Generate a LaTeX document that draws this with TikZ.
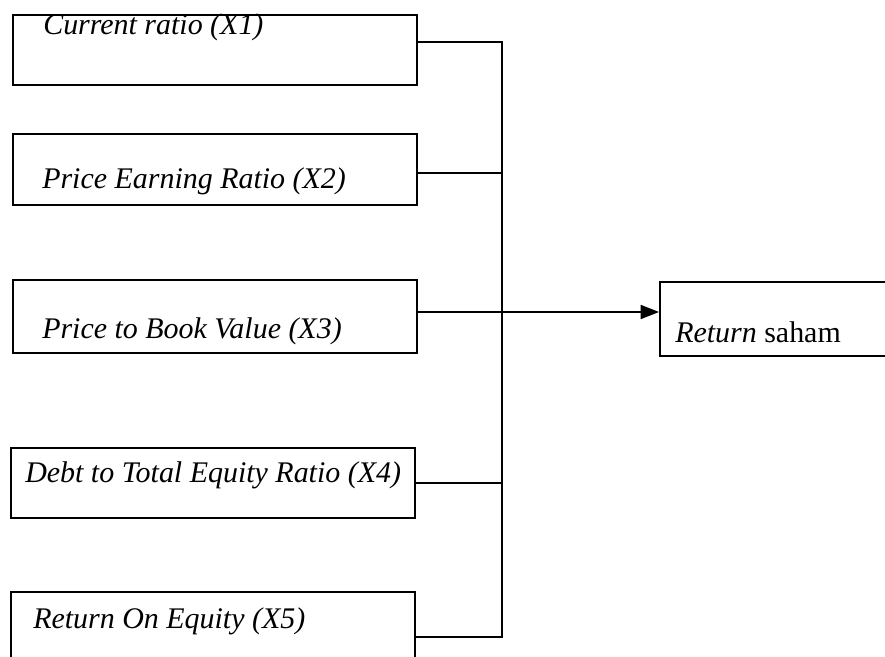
\documentclass[tikz,border=0pt]{standalone}
\usepackage{fontspec}
\setmainfont{Liberation Serif}
\usetikzlibrary{arrows.meta}

\tikzset{
    varbox/.style={draw, line width=1.2pt, minimum width=10.1cm, inner sep=0pt, anchor=north west},
    vartext/.style={anchor=base west, inner sep=0pt, font=\fontsize{21.3}{25}\selectfont\itshape},
    link/.style={line width=1pt},
}

\begin{document}
\begin{tikzpicture}[x=0.025cm, y=-0.025cm]
    \useasboundingbox (0,0) rectangle (885,656);
    \clip (0,0) rectangle (885,656);

    % independent variables
    \node[varbox, minimum height=1.75cm] at (12, 14) (x1) {};
    \node[varbox, minimum height=1.775cm] at (12, 133) (x2) {};
    \node[varbox, minimum height=1.825cm] at (12, 279) (x3) {};
    \node[varbox, minimum height=1.75cm] at (10, 447) (x4) {};
    \node[varbox, minimum height=2cm] at (10, 591) (x5) {};

    % dependent variable
    \node[varbox, minimum width=6cm, minimum height=1.85cm] at (659, 281) (ret) {};

    % labels
    \node[vartext] at (43, 35) (x1text) {Current ratio (X1)};
    \node[vartext] at (42, 188) (x2text) {Price Earning Ratio (X2)};
    \node[vartext] at (42, 338) (x3text) {Price to Book Value (X3)};
    \node[vartext] at (25, 482) (x4text) {Debt to Total Equity Ratio (X4)};
    \node[vartext] at (33, 628) (x5text) {Return On Equity (X5)};
    \node[vartext] at (675, 342) (rettext) {Return \upshape saham};

    % bus
    \coordinate (j1) at (502, 42);
    \coordinate (j2) at (502, 173);
    \coordinate (j3) at (502, 312);
    \coordinate (j4) at (502, 483);
    \coordinate (j5) at (502, 637);
    \draw[link] (x1.east |- j1) -- (j1) -- (j5) -- (x5.east |- j5);
    \draw[link] (x2.east |- j2) -- (j2);
    \draw[link] (x4.east |- j4) -- (j4);

    % arrow to return saham
    \draw[link, -{Triangle[length=13pt, width=10pt]}] (x3.east |- j3) -- (ret.west |- j3);
\end{tikzpicture}
\end{document}
